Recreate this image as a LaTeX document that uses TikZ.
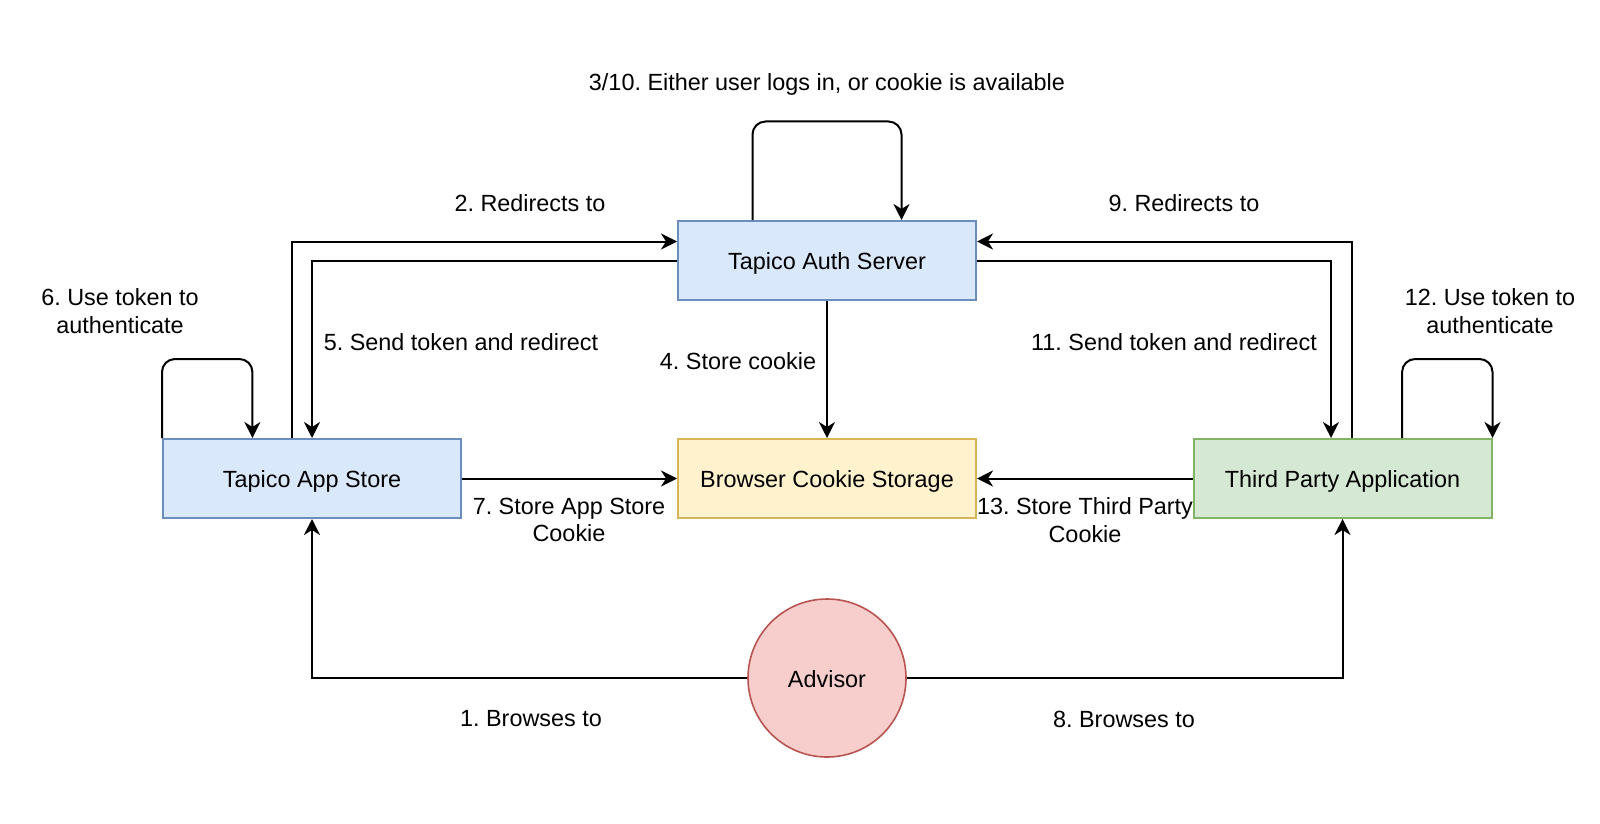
\documentclass[tikz,border=0pt]{standalone}
\usepackage{fontspec}
\setmainfont{Liberation Sans}
\frenchspacing
\usetikzlibrary{arrows.meta, positioning, calc}
\definecolor{azulRelleno}{HTML}{DAE8FC}
\definecolor{azulBorde}{HTML}{6C8EBF}
\definecolor{amarilloRelleno}{HTML}{FFF2CC}
\definecolor{amarilloBorde}{HTML}{D6B656}
\definecolor{verdeRelleno}{HTML}{D5E8D4}
\definecolor{verdeBorde}{HTML}{82B366}
\definecolor{rojoRelleno}{HTML}{F8CECC}
\definecolor{rojoBorde}{HTML}{B85450}
\colorlet{colLinea}{black}
\tikzset{
  boxBase/.style={
    draw, line width=1pt,
    minimum height=39.5pt, minimum width=149pt,
    align=center, inner sep=0pt,
    text height=11pt, text depth=2pt,
    font=\fontsize{11.7}{13.75}\selectfont
  },
  boxServer/.style={boxBase, draw=azulBorde, fill=azulRelleno},
  boxCookie/.style={boxBase, draw=amarilloBorde, fill=amarilloRelleno},
  boxThird/.style={boxBase, draw=verdeBorde, fill=verdeRelleno},
  circleUser/.style={circle, draw=rojoBorde, fill=rojoRelleno, line width=0.8pt,
    minimum size=79pt, inner sep=0pt, text height=11pt, text depth=2pt,
    font=\fontsize{11.7}{13.75}\selectfont},
  arrowMain/.style={-{Stealth[length=8pt, width=8pt, inset=2.5pt]}, line width=1pt, colLinea},
  arrowLoop/.style={arrowMain, rounded corners=6.5pt},
  arrowLabel/.style={font=\fontsize{11.7}{13.75}\selectfont, align=center, inner sep=0pt},
}
\begin{document}
\begin{tikzpicture}[x=0.5pt, y=-0.5pt]
    \useasboundingbox (0,0) rectangle (1600,824);
    % boxes
    \node[boxServer] (auth) at (827,260.5) {Tapico Auth Server};
    \node[boxCookie] (cookie) at (827,478.5) {Browser Cookie Storage};
    \node[boxServer] (store) at (312,478.5) {Tapico App Store};
    \node[boxThird] (third) at (1342.5,478.5) {Third Party Application};
    \node[circleUser] (advisor) at (827,678) {Advisor};

    % connectors
    \draw[arrowLoop] ([xshift=-37.25pt]auth.north) -- ++(0,-98.5) -| ([xshift=37.25pt]auth.north);
    \draw[arrowLoop] (store.north west) -- ++(0,-79) -| ([xshift=-29.8pt]store.north);
    \draw[arrowLoop] ([xshift=29.8pt]third.north) -- ++(0,-79) -| (third.north east);
    \draw[arrowMain] ([xshift=-10pt]store.north) |- ([yshift=9.5pt]auth.west);
    \draw[arrowMain] (auth.west) -| (store.north);
    \draw[arrowMain] ([xshift=4.75pt]third.north) |- ([yshift=9.5pt]auth.east);
    \draw[arrowMain] (auth.east) -| ([xshift=-5.75pt]third.north);
    \draw[arrowMain] (auth) -- (cookie);
    \draw[arrowMain] (store) -- (cookie);
    \draw[arrowMain] (third) -- (cookie);
    \draw[arrowMain] (advisor) -| (store);
    \draw[arrowMain] (advisor) -| (third);

    % labels
    \node[arrowLabel] (l3) at (827,84) {3/10. Either user logs in, or cookie is available};
    \node[arrowLabel] (l2) at (530,203) {2. Redirects to};
    \node[arrowLabel] (l9) at (1184,203) {9. Redirects to};
    \node[arrowLabel] (l6) at (120,311) {6. Use token to\\authenticate};
    \node[arrowLabel] (l12) at (1490,311) {12. Use token to\\authenticate};
    \node[arrowLabel] (l5) at (461,342) {5. Send token and redirect};
    \node[arrowLabel] (l11) at (1174,342) {11. Send token and redirect};
    \node[arrowLabel] (l4) at (738,361) {4. Store cookie};
    \node[arrowLabel] (l7) at (569,520) {7. Store App Store\\Cookie};
    \node[arrowLabel] (l13) at (1085,520) {13. Store Third Party\\Cookie};
    \node[arrowLabel] (l1) at (531,719) {1. Browses to};
    \node[arrowLabel] (l8) at (1124,719) {8. Browses to};
  \end{tikzpicture}
\end{document}
